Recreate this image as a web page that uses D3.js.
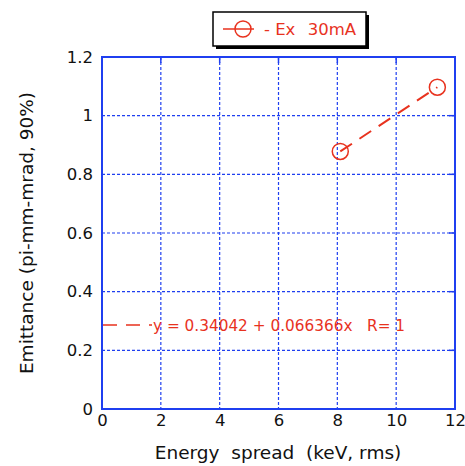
<!DOCTYPE html>
<html>
<head>
<meta charset="utf-8">
<script src="https://cdn.jsdelivr.net/npm/d3@7"></script>
<style>
  body { margin:0; background:#fff; }
  svg text { font-family: "DejaVu Sans", Verdana, sans-serif; }
</style>
</head>
<body>
<div id="chart"></div>
<script>
  var energySpread = [8.1, 11.4];
  var emittance = [0.878, 1.097];
  var xTicks = [0, 2, 4, 6, 8, 10, 12];
  var yTicks = [0, 0.2, 0.4, 0.6, 0.8, 1, 1.2];
  var fitText = "y = 0.34042 + 0.066366x   R= 1";

  var red = "#e8321e", blue = "#1f3ff0";
  var margin = {top:57, left:102, right:10, bottom:57};

  var svg = d3.select("#chart").append("svg")
      .attr("width", 465).attr("height", 466);
  var g = svg.append("g")
      .attr("transform", "translate(" + margin.left + "," + margin.top + ")");

  var x = d3.scaleLinear().domain([0, 12]).range([0, 353]);
  var y = d3.scaleLinear().domain([0, 1.2]).range([352, 0]);

  // grid
  g.append("g").selectAll("line").data(xTicks.slice(1, -1)).enter().append("line")
    .attr("x1", d => x(d)).attr("x2", d => x(d))
    .attr("y1", 0).attr("y2", y(0))
    .attr("stroke", blue).attr("stroke-width", 1.2).attr("stroke-dasharray", "3,2");
  g.append("g").selectAll("line").data(yTicks.slice(1, -1)).enter().append("line")
    .attr("y1", d => y(d)).attr("y2", d => y(d))
    .attr("x1", 0).attr("x2", x(12))
    .attr("stroke", blue).attr("stroke-width", 1.2).attr("stroke-dasharray", "3,2");

  // axes
  var xAxis = d3.axisBottom(x).tickValues(xTicks).tickSize(0).tickPadding(5).tickFormat(d3.format("d"));
  var yAxis = d3.axisLeft(y).tickValues(yTicks).tickSize(0).tickPadding(9).tickFormat(d => d);
  var gx = g.append("g").attr("transform", "translate(0," + y(0) + ")").call(xAxis);
  var gy = g.append("g").call(yAxis);
  [gx, gy].forEach(function(a) {
    a.select(".domain").remove();
    a.selectAll("text").attr("font-size", 16.5).attr("fill", "#111")
      .style("font-family", "'DejaVu Sans', Verdana, sans-serif");
  });

  // inner ticks
  g.append("g").selectAll("line").data(yTicks.slice(1, -1)).enter().append("line")
    .attr("x1", x(12) - 6).attr("x2", x(12))
    .attr("y1", d => y(d)).attr("y2", d => y(d))
    .attr("stroke", blue).attr("stroke-width", 1.5);
  g.append("g").selectAll("line").data(xTicks.slice(1, -1)).enter().append("line")
    .attr("x1", d => x(d)).attr("x2", d => x(d))
    .attr("y1", 0).attr("y2", 6)
    .attr("stroke", blue).attr("stroke-width", 1.5);

  g.append("rect").attr("x", 0).attr("y", 0)
    .attr("width", x(12)).attr("height", y(0))
    .attr("fill", "none").attr("stroke", blue).attr("stroke-width", 2);

  // fit line
  var line = d3.line().x((d, i) => x(energySpread[i])).y(d => y(d));
  g.append("path").datum(emittance).attr("d", line)
    .attr("fill", "none").attr("stroke", red).attr("stroke-width", 2)
    .attr("stroke-dasharray", "14,9");

  g.selectAll(".pt").data(emittance).enter().append("circle")
    .attr("cx", (d, i) => x(energySpread[i])).attr("cy", d => y(d))
    .attr("r", 8).attr("fill", "none").attr("stroke", red).attr("stroke-width", 1.5);

  // fit label
  var fy = 268;
  g.append("line").attr("x1", 1).attr("x2", 50).attr("y1", fy).attr("y2", fy)
    .attr("stroke", red).attr("stroke-width", 1.5).attr("stroke-dasharray", "14,9");
  g.append("text").attr("x", 51).attr("y", fy + 6).attr("fill", red)
    .attr("font-size", 15.3).attr("xml:space", "preserve").text(fitText);

  // axis titles
  svg.append("text").attr("x", 278).attr("y", 459).attr("text-anchor", "middle")
    .attr("font-size", 18.5).attr("fill", "#111").attr("xml:space", "preserve")
    .text("Energy  spread  (keV, rms)");
  svg.append("text").attr("transform", "translate(33,233) rotate(-90)")
    .attr("text-anchor", "middle").attr("font-size", 18.5).attr("fill", "#111")
    .text("Emittance (pi-mm-mrad, 90%)");

  // legend
  var lg = svg.append("g");
  lg.append("rect").attr("x", 216).attr("y", 15).attr("width", 153).attr("height", 34).attr("fill", "#000");
  lg.append("rect").attr("x", 213).attr("y", 12).attr("width", 153).attr("height", 34)
    .attr("fill", "#fff").attr("stroke", "#000").attr("stroke-width", 1.5);
  lg.append("line").attr("x1", 223).attr("x2", 254).attr("y1", 29).attr("y2", 29)
    .attr("stroke", red).attr("stroke-width", 1.5);
  lg.append("circle").attr("cx", 243).attr("cy", 29).attr("r", 8)
    .attr("fill", "none").attr("stroke", red).attr("stroke-width", 1.5);
  lg.append("text").attr("x", 264).attr("y", 35).attr("fill", red)
    .attr("font-size", 16.5).attr("xml:space", "preserve").text("- Ex");
  lg.append("text").attr("x", 356).attr("y", 35).attr("fill", red).attr("text-anchor", "end")
    .attr("font-size", 16.5).text("30mA");
</script>
</body>
</html>
